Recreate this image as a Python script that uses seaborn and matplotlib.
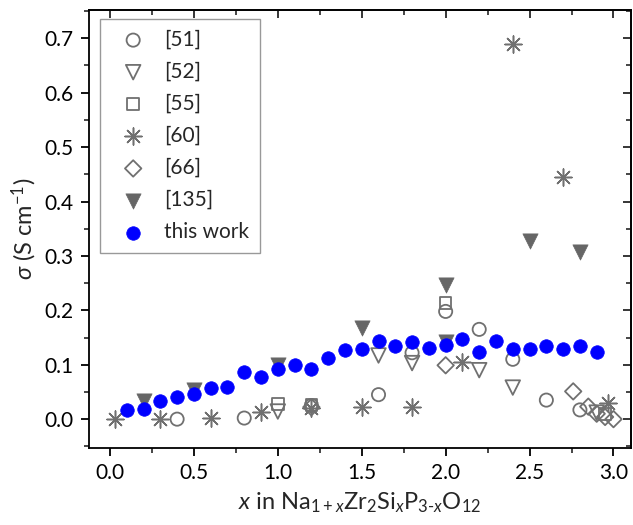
import numpy as np
import pandas as pd
import matplotlib
matplotlib.use("Agg")
import matplotlib.pyplot as plt
from matplotlib.ticker import MultipleLocator, FormatStrFormatter
import seaborn as sns

# datos
x_51 = [0.4, 0.8, 1.2, 1.6, 1.8, 2.0, 2.2, 2.4, 2.6, 2.8]
y_51 = [0.0, 0.002, 0.025, 0.045, 0.122, 0.198, 0.165, 0.110, 0.035, 0.017]

x_52 = [1.0, 1.6, 1.8, 2.2, 2.4, 2.9]
y_52 = [0.014, 0.117, 0.103, 0.090, 0.058, 0.012]

x_55 = [1.0, 1.2, 2.0, 2.95]
y_55 = [0.028, 0.026, 0.213, 0.010]

x_60 = [0.03, 0.3, 0.6, 0.9, 1.2, 1.5, 1.8, 2.1, 2.4, 2.7, 2.97]
y_60 = [0.0, 0.0, 0.003, 0.014, 0.021, 0.022, 0.023, 0.105, 0.689, 0.445, 0.030]

x_66 = [1.2, 2.0, 2.76, 2.85, 2.9, 2.95, 3.0]
y_66 = [0.022, 0.099, 0.051, 0.023, 0.010, 0.004, 0.0]

x_135 = [0.2, 0.5, 1.0, 1.5, 2.0, 2.0, 2.5, 2.8]
y_135 = [0.034, 0.053, 0.099, 0.167, 0.247, 0.141, 0.327, 0.308]

x_tw = [0.1, 0.2, 0.3, 0.4, 0.5, 0.6, 0.7, 0.8, 0.9, 1.0,
        1.1, 1.2, 1.3, 1.4, 1.5, 1.6, 1.7, 1.8, 1.9, 2.0,
        2.1, 2.2, 2.3, 2.4, 2.5, 2.6, 2.7, 2.8, 2.9]
y_tw = [0.017, 0.018, 0.033, 0.040, 0.047, 0.058, 0.059, 0.087, 0.077, 0.092,
        0.099, 0.093, 0.113, 0.127, 0.128, 0.144, 0.135, 0.142, 0.131, 0.136,
        0.148, 0.124, 0.144, 0.128, 0.129, 0.134, 0.128, 0.134, 0.123]

sns.set_style("ticks")
plt.rcParams['font.family'] = ['Lato', 'DejaVu Sans']
plt.rcParams['mathtext.fontset'] = 'custom'
plt.rcParams['mathtext.rm'] = 'Lato'
plt.rcParams['mathtext.it'] = 'Lato:italic'

gris = '#707070'

fig = plt.figure(figsize=(6.33, 5.25), dpi=100)
ax = fig.add_axes([0.1406, 0.1467, 0.8564, 0.8343])

# series de referencia (marcadores abiertos en gris)
sns.scatterplot(x=x_51, y=y_51, ax=ax, marker='o', s=90, facecolors='none',
                edgecolor=gris, linewidth=1.3, label='[51]', zorder=3)
sns.scatterplot(x=x_52, y=y_52, ax=ax, marker='v', s=110, facecolors='none',
                edgecolor=gris, linewidth=1.3, label='[52]', zorder=3)
sns.scatterplot(x=x_55, y=y_55, ax=ax, marker='s', s=70, facecolors='none',
                edgecolor=gris, linewidth=1.3, label='[55]', zorder=3)
sns.scatterplot(x=x_60, y=y_60, ax=ax, marker=(8, 2, 0), s=150, color=gris,
                linewidth=1.1, label='[60]', zorder=3)
sns.scatterplot(x=x_66, y=y_66, ax=ax, marker='D', s=70, facecolors='none',
                edgecolor=gris, linewidth=1.3, label='[66]', zorder=3)
sns.scatterplot(x=x_135, y=y_135, ax=ax, marker='v', s=120, color='#666666',
                edgecolor='#666666', linewidth=0.5, label='[135]', zorder=3)
sns.scatterplot(x=x_tw, y=y_tw, ax=ax, marker='o', s=95, color='#0000ff',
                edgecolor='#0000ff', linewidth=0.5, label='this work', zorder=4)

ax.set_xlim(-0.125, 3.105)
ax.set_ylim(-0.053, 0.752)

ax.xaxis.set_major_locator(MultipleLocator(0.5))
ax.xaxis.set_minor_locator(MultipleLocator(0.25))
ax.yaxis.set_major_locator(MultipleLocator(0.1))
ax.yaxis.set_minor_locator(MultipleLocator(0.05))
ax.xaxis.set_major_formatter(FormatStrFormatter('%.1f'))
ax.yaxis.set_major_formatter(FormatStrFormatter('%.1f'))

ax.tick_params(which='major', direction='out', length=6, width=1.3, labelsize=15,
               colors='black', pad=5)
ax.tick_params(which='minor', direction='out', length=3.5, width=1.2)

# ejes secundarios con marcas hacia dentro
top = ax.secondary_xaxis('top')
top.xaxis.set_major_locator(MultipleLocator(0.5))
top.xaxis.set_minor_locator(MultipleLocator(0.25))
top.tick_params(which='major', direction='in', length=6, width=1.3, labeltop=False)
top.tick_params(which='minor', direction='in', length=3.5, width=1.2)
right = ax.secondary_yaxis('right')
right.yaxis.set_major_locator(MultipleLocator(0.1))
right.yaxis.set_minor_locator(MultipleLocator(0.05))
right.tick_params(which='major', direction='in', length=6, width=1.3, labelright=False)
right.tick_params(which='minor', direction='in', length=3.5, width=1.2)
for a in (top, right):
    for sp in a.spines.values():
        sp.set_linewidth(1.3)

for sp in ax.spines.values():
    sp.set_visible(True)
    sp.set_linewidth(1.3)
    sp.set_color('black')

ax.set_xlabel(r'$x$ in Na$_{1+x}$Zr$_2$Si$_x$P$_{3\text{-}x}$O$_{12}$', fontsize=17, labelpad=5)
ax.set_ylabel(r'$\sigma$ (S cm$^{-1}$)', fontsize=17, labelpad=4)

leg = ax.legend(loc='upper left', bbox_to_anchor=(0.02, 0.979), frameon=True,
                fancybox=False, edgecolor='#808080', fontsize=15, labelspacing=0.58,
                handletextpad=0.4, borderpad=0.5, handlelength=2.2, borderaxespad=0)
leg.get_frame().set_linewidth(1.0)

fig.savefig('out.png', dpi=100)
